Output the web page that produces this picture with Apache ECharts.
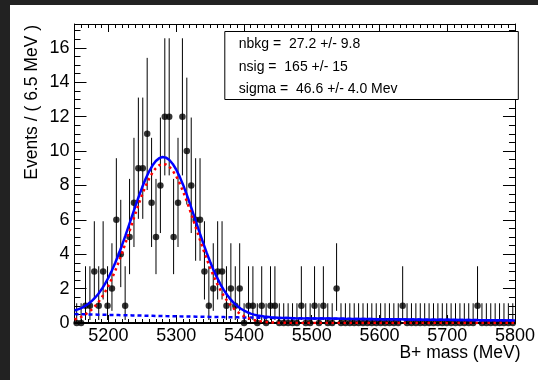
<!DOCTYPE html>
<html><head><meta charset="utf-8">
<script src="https://cdn.jsdelivr.net/npm/echarts@6/dist/echarts.min.js"></script>
<style>
html,body{margin:0;padding:0;background:#222;width:538px;height:380px;overflow:hidden}
#bg{position:absolute;left:10px;top:5px;width:528px;height:375px;background:#fff}
#c{position:absolute;left:0;top:0;width:538px;height:380px}
</style></head><body><div id="bg"></div><div id="c"></div>
<script>
// Binning
const binLow = 5150, binWidth = 6.5;
// Events per bin (100 bins)
const counts = [0,0,1,1,3,1,3,1,2,6, 4,1,5,7,9,9,11,7,5,8, 12,12,5,7,12,10,8,6,6,3, 1,2,3,3,1,2,1,2,0,1,
  1,0,1,0,1,1,0,0,0,0, 0,1,0,0,1,0,1,0,0,2, 0,0,0,0,0,0,0,0,0,0, 0,0,0,0,1,0,0,0,0,0,
  0,0,0,0,0,0,0,0,0,0, 0,1,0,0,0,0,0,0,0,0];
// Poisson error interval table indexed by count
const poisLo = [0,0.173,0.708,1.367,2.086,2.840,3.620,4.419,5.232,6.057,6.891,7.734,8.585];
const poisHi = [1.148,3.300,4.638,5.918,7.163,8.382,9.584,10.77,11.95,13.11,14.27,15.42,16.56];
// Fit curves
const curveX = [5150,5155,5160,5165,5170,5175,5180,5185,5190,5195,5200,5205,5210,5215,5220,5225,5230,5235,5240,5245,
  5250,5255,5260,5265,5270,5275,5280,5285,5290,5295,5300,5305,5310,5315,5320,5325,5330,5335,5340,5345,
  5350,5355,5360,5365,5370,5375,5380,5385,5390,5395,5400,5405,5410,5415,5420,5430,5440,5450,5475,
  5500,5525,5550,5575,5600,5625,5650,5675,5700,5725,5750,5775,5800];
const totalY = [.726,.789,.870,.974,1.103,1.263,1.456,1.686,1.957,2.273,2.633,3.040,3.490,3.982,4.510,5.067,5.644,6.230,6.811,7.374,
  7.905,8.388,8.810,9.157,9.418,9.586,9.653,9.618,9.483,9.251,8.929,8.528,8.061,7.539,6.979,6.396,5.801,5.213,4.639,4.089,
  3.576,3.100,2.668,2.282,1.941,1.643,1.389,1.174,.994,.845,.724,.626,.548,.487,.439,.373,.333,.310,.282,
  .267,.255,.243,.232,.221,.211,.201,.192,.183,.174,.166,.159,.151];
const sigY = [.206,.274,.360,.469,.603,.767,.965,1.200,1.476,1.796,2.161,2.572,3.027,3.523,4.055,4.617,5.198,5.788,6.373,6.941,
  7.476,7.963,8.389,8.740,9.005,9.177,9.248,9.217,9.085,8.857,8.539,8.142,7.678,7.160,6.603,6.024,5.433,4.848,4.277,3.731,
  3.221,2.749,2.320,1.937,1.599,1.305,1.054,.842,.665,.519,.401,.306,.231,.173,.128,.068,.034,.016,.002,
  0,0,0,0,0,0,0,0,0,0,0,0,0];
const bkgY = [.520,.515,.510,.505,.500,.496,.491,.486,.481,.477,.472,.468,.463,.459,.455,.450,.446,.442,.438,.433,
  .429,.425,.421,.417,.413,.409,.405,.401,.398,.394,.390,.386,.383,.379,.376,.372,.368,.365,.362,.358,
  .355,.351,.348,.345,.342,.338,.335,.332,.329,.326,.323,.320,.317,.314,.311,.305,.299,.294,.280,
  .267,.255,.243,.232,.221,.211,.201,.192,.183,.174,.166,.159,.151];
// Ticks / labels
const xMajor = [5200,5300,5400,5500,5600,5700,5800];
const yMajor = [0,2,4,6,8,10,12,14,16];
const xTitle = 'B+ mass (MeV)';
const yTitle = 'Events / ( 6.5 MeV )';
const statLines = ['nbkg =  27.2 +/- 9.8', 'nsig =  165 +/- 15', 'sigma =  46.6 +/- 4.0 Mev'];

const X0 = 5150, X1 = 5800, Y0 = 0, Y1 = 17.39;
const xMinor = []; for (let v = 5160; v < 5800; v += 10) xMinor.push(v);
const yMinor = []; for (let v = 0.5; v < 17.3; v += 0.5) yMinor.push(v);

const FONT = 'Liberation Sans, Arial, Helvetica, sans-serif';
const pts = counts.map((n, i) => [binLow + binWidth * (i + 0.5), n, poisLo[n], poisHi[n]]);
const zip = (a, b) => a.map((v, i) => [v, b[i]]);

function xAx(pos, major, len, vals, label, lineW) {
  return { type: 'value', min: X0, max: X1, position: pos, gridIndex: 0,
    axisLine: { show: major, onZero: false, lineStyle: { color: '#000', width: lineW } },
    axisTick: { show: true, inside: true, length: len, customValues: vals, lineStyle: { color: '#000', width: 1 } },
    axisLabel: { show: label, customValues: vals, color: '#000', fontSize: 18, fontFamily: FONT, margin: 4,
      formatter: v => String(v) },
    splitLine: { show: false } };
}
function yAx(pos, major, len, vals, label) {
  return { type: 'value', min: Y0, max: Y1, position: pos, gridIndex: 0,
    axisLine: { show: major, onZero: false, lineStyle: { color: '#000', width: 1 } },
    axisTick: { show: true, inside: true, length: len, customValues: vals, lineStyle: { color: '#000', width: 1 } },
    axisLabel: { show: label, customValues: vals, color: '#000', fontSize: 18, fontFamily: FONT, margin: 5,
      formatter: v => String(v) },
    splitLine: { show: false } };
}

const chart = echarts.init(document.getElementById('c'), null, { renderer: 'canvas' });
chart.setOption({
  animation: false,
  backgroundColor: 'transparent',
  grid: { left: 74.5, top: 24, width: 445.5, height: 299 },
  xAxis: [xAx('bottom', true, 8, xMajor, true, 2), xAx('bottom', false, 4, xMinor, false, 1),
          xAx('top', true, 8, xMajor, false, 1), xAx('top', false, 4, xMinor, false, 1)],
  yAxis: [yAx('left', true, 12, yMajor, true), yAx('left', false, 6, yMinor, false),
          yAx('right', true, 12, yMajor, false), yAx('right', false, 6, yMinor, false)],
  series: [
    { type: 'custom', xAxisIndex: 0, yAxisIndex: 0, z: 3, data: pts, encode: { x: 0, y: [2, 3] },
      renderItem: function (params, api) {
        const x = api.value(0), lo = api.value(2), hi = api.value(3);
        const p1 = api.coord([x, lo]), p2 = api.coord([x, hi]);
        return { type: 'line', shape: { x1: p1[0], y1: p1[1], x2: p2[0], y2: p2[1] }, style: { stroke: '#000', lineWidth: 1 } };
      } },
    { type: 'scatter', xAxisIndex: 0, yAxisIndex: 0, z: 4, clip: false, symbol: 'circle', symbolSize: 6.5,
      itemStyle: { color: '#000' }, data: pts.map(p => [p[0], p[1]]) },
    { type: 'line', z: 5, showSymbol: false, data: zip(curveX, totalY), lineStyle: { color: '#0000ff', width: 2.5 } },
    { type: 'line', z: 6, showSymbol: false, data: zip(curveX, bkgY), lineStyle: { color: '#0000ff', width: 2.5, type: [4, 3] } },
    { type: 'line', z: 7, showSymbol: false, data: zip(curveX, sigY), lineStyle: { color: '#ff0000', width: 2.5, type: [2.5, 3.5] } }
  ],
  graphic: [
    { type: 'rect', z: 100, shape: { x: 224.8, y: 31.5, width: 293.5, height: 68 }, style: { fill: '#fff', stroke: '#000', lineWidth: 1 } },
    { type: 'text', z: 101, x: 238.8, y: 44, style: { text: statLines[0], fontSize: 14, fontFamily: FONT, fill: '#000', align: 'left', verticalAlign: 'middle' } },
    { type: 'text', z: 101, x: 238.8, y: 67, style: { text: statLines[1], fontSize: 14, fontFamily: FONT, fill: '#000', align: 'left', verticalAlign: 'middle' } },
    { type: 'text', z: 101, x: 238.8, y: 89.5, style: { text: statLines[2], fontSize: 14, fontFamily: FONT, fill: '#000', align: 'left', verticalAlign: 'middle' } },
    { type: 'text', z: 101, x: 32.6, y: 25, rotation: Math.PI / 2, style: { text: yTitle, fontSize: 17.5, fontFamily: FONT, fill: '#000', align: 'right', verticalAlign: 'middle' } },
    { type: 'text', z: 101, x: 520.5, y: 353, style: { text: xTitle, fontSize: 17.5, fontFamily: FONT, fill: '#000', align: 'right', verticalAlign: 'middle' } }
  ]
});
</script></body></html>
